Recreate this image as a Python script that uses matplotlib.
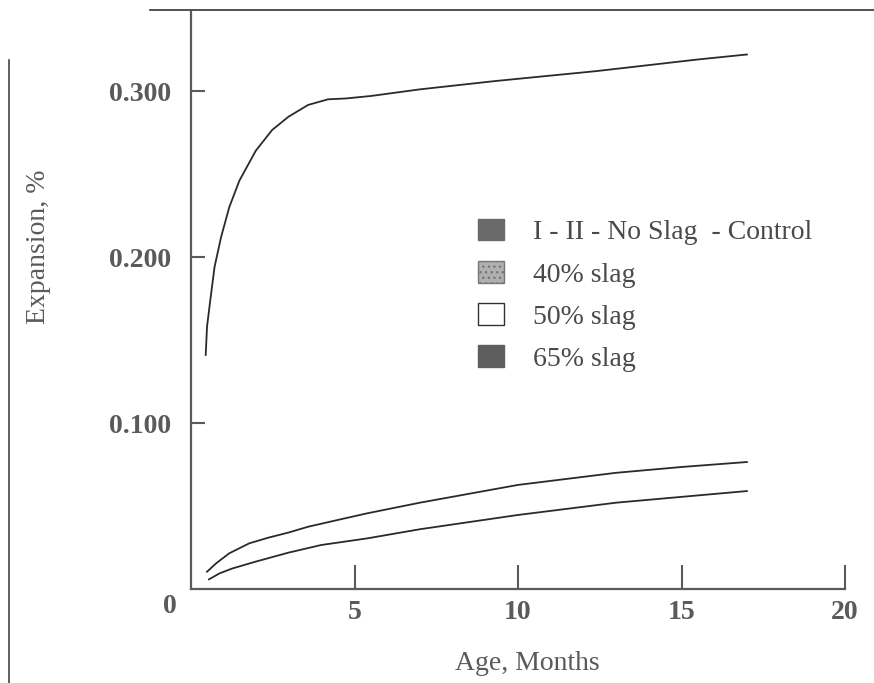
import matplotlib
matplotlib.use("Agg")
import matplotlib.pyplot as plt
from matplotlib.patches import Patch
from matplotlib.lines import Line2D

plt.rcParams['font.family'] = ['Liberation Serif', 'DejaVu Serif']

# data (age in months, expansion in %)
control_age = [0.45, 0.49, 0.59, 0.72, 0.92, 1.17, 1.48, 1.98, 2.48, 2.98, 3.58,
               4.19, 4.73, 5.5, 7, 9.3, 12.4, 15.5, 17]
control_exp = [0.141, 0.158, 0.174, 0.194, 0.212, 0.230, 0.246, 0.264, 0.2765,
               0.2845, 0.2916, 0.295, 0.2955, 0.297, 0.301, 0.306, 0.312, 0.319, 0.322]

slag40_age = [0.49, 0.77, 1.17, 1.78, 2.38, 2.98, 3.58, 4.49, 5.39, 7, 10, 13, 15, 17]
slag40_exp = [0.0104, 0.0155, 0.0215, 0.0275, 0.031, 0.034, 0.0375, 0.0416, 0.0456,
              0.052, 0.0627, 0.070, 0.0735, 0.0765]

slag65_age = [0.55, 0.87, 1.27, 1.98, 2.98, 3.98, 5.39, 7, 10, 13, 15, 17]
slag65_exp = [0.0058, 0.0094, 0.0124, 0.0165, 0.0219, 0.0265, 0.0305, 0.036,
              0.0446, 0.052, 0.0555, 0.059]

legend_labels = ['I - II - No Slag  - Control', '40% slag', '50% slag', '65% slag']
xticks = [5, 10, 15, 20]
yticks = [0.1, 0.2, 0.3]
ytick_labels = ['0.100', '0.200', '0.300']

grey = '#5a5a5a'

fig = plt.figure(figsize=(8.74, 6.83), dpi=100)
ax = fig.add_axes([191 / 874, 1 - 589 / 683, 654 / 874, 577 / 683])

line_kw = dict(color='#2a2a2a', lw=1.3)
ax.plot(control_age, control_exp, **line_kw)
ax.plot(slag40_age, slag40_exp, **line_kw)
ax.plot(slag65_age, slag65_exp, **line_kw)

ax.set_xlim(0, 20)
ax.set_ylim(0, 0.3476)

for side in ['top', 'right']:
    ax.spines[side].set_visible(False)
for side in ['left', 'bottom']:
    ax.spines[side].set_color(grey)
    ax.spines[side].set_linewidth(1.6)

ax.set_xticks(xticks)
ax.set_yticks(yticks)
ax.set_yticklabels(ytick_labels)
ax.tick_params(axis='x', direction='in', length=17, width=1.5, color=grey,
               pad=8, labelsize=20, labelcolor=grey)
ax.tick_params(axis='y', direction='in', length=10, width=1.5, color=grey,
               pad=14, labelsize=20, labelcolor=grey)
for lab in ax.get_yticklabels() + ax.get_xticklabels():
    lab.set_fontweight('bold')

ax.text(-0.032, -0.03, '0', transform=ax.transAxes, ha='center', va='center',
        fontsize=20, color=grey, fontweight='bold')

ax.set_xlabel('Age, Months', fontsize=20, color=grey)
ax.xaxis.set_label_coords(0.514, -0.108)
ax.set_ylabel('Expansion, %', fontsize=20, color=grey)
ax.yaxis.set_label_coords(-0.214, 0.594)

handles = [
    Patch(facecolor='#6a6a6a', edgecolor='#6a6a6a'),
    Patch(facecolor='#b0b0b0', edgecolor='#777777', hatch='...'),
    Patch(facecolor='white', edgecolor='#333333'),
    Patch(facecolor='#5e5e5e', edgecolor='#5e5e5e'),
]
leg = ax.legend(handles, legend_labels, loc='upper left',
                bbox_to_anchor=(0.439, 0.641), frameon=False, fontsize=20,
                handlelength=0.93, handleheight=0.8, handletextpad=1.04,
                labelspacing=0.57, borderpad=0, borderaxespad=0)
for t in leg.get_texts():
    t.set_color('#4a4a4a')

# scan border remnants
fig.add_artist(Line2D([150 / 874, 1.0], [1 - 10 / 683, 1 - 10 / 683],
                      color='#333333', lw=1.2))
fig.add_artist(Line2D([9 / 874, 9 / 874], [0.0, 1 - 60 / 683],
                      color='#444444', lw=1.2))

fig.savefig('out.png', dpi=100)
